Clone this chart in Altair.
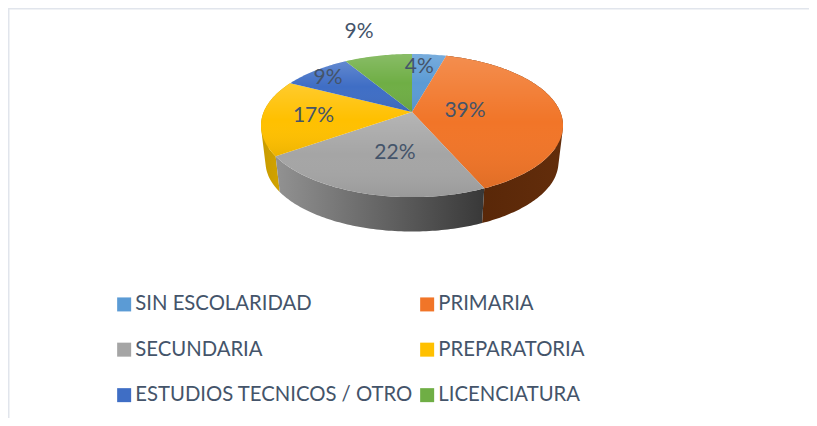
import math
import altair as alt

categories = ["SIN ESCOLARIDAD", "PRIMARIA", "SECUNDARIA", "PREPARATORIA", "ESTUDIOS TECNICOS / OTRO", "LICENCIATURA"]
shares = [4.4, 39.0, 21.9, 17.2, 8.8, 8.7]
labels = ["4%", "39%", "22%", "17%", "9%", "9%"]
colors = ["#5B9BD5", "#F17528", "#A5A5A5", "#FFC000", "#3F6EC5", "#6FAE45"]

# layout of the tilted pie, in page pixels
W, H = 801, 410
AX, AY = 412.0, 112.0       # apex of the top face
A, B, K = 148.3, 69.0, 0.189  # perspective of the disc
LOW_S, LOW_Y = 0.97, 149.0    # bottom rim
TEXT = "#44546A"
FONT = "Lato"
label_r = [0.77, 0.36, 0.543, 0.66, 0.80, 1.57]
label_shift = [(-6.5, 1), (0, 1), (7, 1), (0, 1), (-5, 0), (-4, 1)]


def rim(theta_deg, r=1.0):
    t = math.radians(theta_deg)
    X, Y = r * math.sin(t), r * math.cos(t)
    d = 1 + K * Y
    return A * X / d, -B * Y / d


def top_pt(theta, r=1.0):
    dx, dy = rim(theta, r)
    return [AX + dx, AY + dy]


def low_pt(theta):
    dx, dy = rim(theta)
    return [AX + LOW_S * dx, LOW_Y + LOW_S * dy]


def angles(a, b):
    n = max(2, int(abs(b - a)) + 1)
    return [a + (b - a) * i / (n - 1) for i in range(n)]


def area(ring):
    return sum(ring[i][0] * ring[i + 1][1] - ring[i + 1][0] * ring[i][1] for i in range(len(ring) - 1))


edges = [0.0]
for s in shares:
    edges.append(edges[-1] + s * 3.6)

tops, walls, text_rows = [], {}, []
for i, name in enumerate(categories):
    a, b = edges[i], edges[i + 1]
    ring = [[AX, AY]] + [top_pt(t) for t in angles(a, b)] + [[AX, AY]]
    tops.append({"type": "Feature", "properties": {"name": name},
                 "geometry": {"type": "Polygon", "coordinates": [ring]}})
    ts = angles(a, b)
    quads = []
    for t0, t1 in zip(ts[:-1], ts[1:]):
        q = [top_pt(t0), top_pt(t1), low_pt(t1), low_pt(t0), top_pt(t0)]
        if area(q) < 0:
            q = q[::-1]
        quads.append([q])
    walls[name] = {"type": "Feature", "properties": {"name": name},
                   "geometry": {"type": "MultiPolygon", "coordinates": quads}}
    lx, ly = top_pt((a + b) / 2, label_r[i])
    text_rows.append({"lon": lx + label_shift[i][0], "lat": ly + label_shift[i][1], "t": labels[i]})

proj = alt.Projection(type="identity", scale=1, translate=[-8, -8])


def grad(stops, x2=0, y2=1):
    return alt.LinearGradient(
        gradient="linear", x1=0, y1=0, x2=x2, y2=y2,
        stops=[alt.GradientStop(offset=o, color=c) for o, c in stops])


def wall(name, g):
    return alt.Chart(alt.Data(values=[walls[name]])).mark_geoshape(color=g, strokeWidth=0, stroke=None)


wall_orange = wall("PRIMARIA", grad([(0, "#552507"), (1, "#632D0B")], x2=1, y2=0))
wall_yellow = wall("PREPARATORIA", grad([(0, "#C89B00"), (1, "#D8A800")], x2=1, y2=0))
wall_gray = wall("SECUNDARIA", grad([(0, "#929292"), (1, "#383838")], x2=1, y2=0))

face = alt.Chart(alt.Data(values=tops)).mark_geoshape(strokeWidth=0, stroke=None).encode(
    color=alt.Color(
        "properties.name:N",
        scale=alt.Scale(domain=categories, range=colors),
        legend=alt.Legend(
            title=None, orient="none", legendX=106, legendY=286, columns=2, direction="horizontal",
            symbolType="square", symbolSize=196, symbolStrokeWidth=0, symbolOpacity=1,
            labelFont=FONT, labelFontSize=20.3, labelColor=TEXT, labelLimit=400,
            labelOffset=1, rowPadding=24.5, columnPadding=4, padding=0,
        ),
    )
)

shade = alt.Chart(alt.Data(values=tops)).mark_geoshape(
    strokeWidth=0, stroke=None,
    color=grad([(0, "rgba(255,255,255,0.18)"), (0.5, "rgba(255,255,255,0)"), (1, "rgba(0,0,0,0.07)")]),
)

pct = alt.Chart(alt.Data(values=text_rows)).mark_text(
    font=FONT, fontSize=21, color=TEXT, align="center", baseline="middle"
).encode(longitude="lon:Q", latitude="lat:Q", text="t:N")

border_top = alt.Chart(alt.Data(values=[{"k": 0}])).mark_rule(color="#E1E5EC", strokeWidth=2).encode(
    x=alt.value(0), x2=alt.value(W), y=alt.value(0.5))
border_left = alt.Chart(alt.Data(values=[{"k": 0}])).mark_rule(color="#E1E5EC", strokeWidth=2).encode(
    x=alt.value(0.5), y=alt.value(0), y2=alt.value(H))

chart = alt.layer(
    border_top, border_left, wall_orange, wall_yellow, wall_gray, face, shade, pct
).properties(
    width=W, height=H, padding=0, background="white",
    autosize=alt.AutoSizeParams(type="none"), projection=proj,
).configure_view(stroke=None)

chart.save("out.html", embed_options={"renderer": "svg", "actions": False})
